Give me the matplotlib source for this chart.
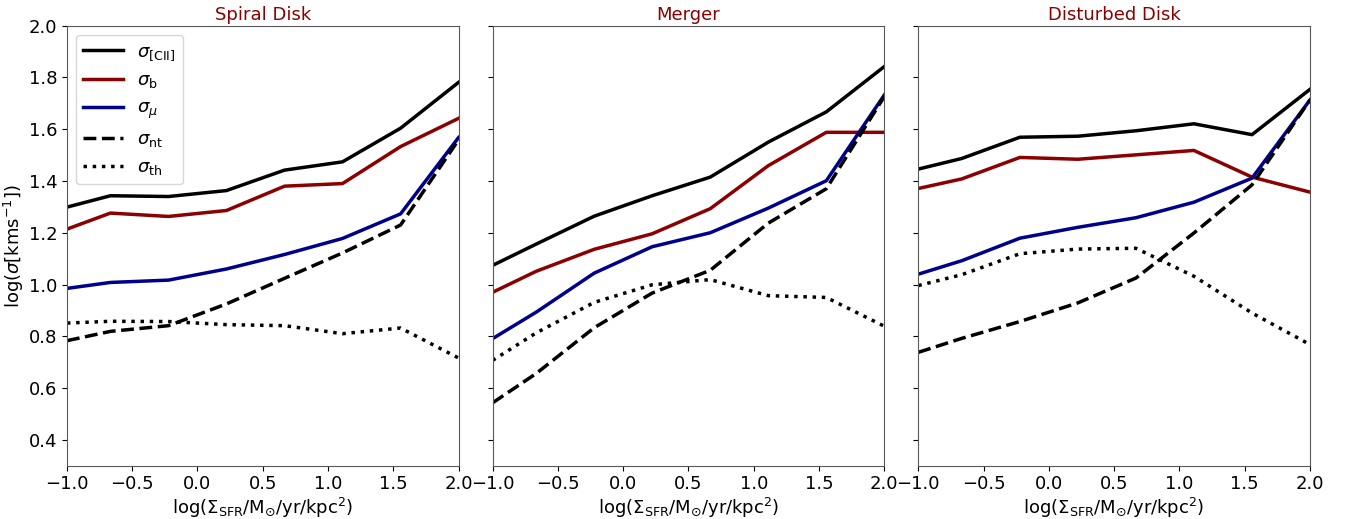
import numpy as np
import matplotlib
matplotlib.use("Agg")
import matplotlib.pyplot as plt

# ------------------ DATA ------------------ #
log_sfr = [-1.0, -0.667, -0.222, 0.222, 0.667, 1.111, 1.556, 2.0]

panels = ["Spiral Disk", "Merger", "Disturbed Disk"]

# Spiral Disk
spiral_cii = [1.299, 1.343, 1.340, 1.363, 1.442, 1.474, 1.604, 1.781]
spiral_b = [1.214, 1.276, 1.263, 1.286, 1.380, 1.390, 1.533, 1.642]
spiral_mu = [0.985, 1.008, 1.017, 1.060, 1.116, 1.178, 1.273, 1.568]
spiral_nt = [0.783, 0.819, 0.841, 0.925, 1.024, 1.122, 1.230, 1.559]
spiral_th = [0.851, 0.858, 0.857, 0.845, 0.841, 0.810, 0.832, 0.716]

# Merger
merger_cii = [1.074, 1.156, 1.264, 1.343, 1.415, 1.550, 1.667, 1.842]
merger_b = [0.970, 1.051, 1.136, 1.196, 1.293, 1.459, 1.588, 1.588]
merger_mu = [0.791, 0.893, 1.044, 1.146, 1.200, 1.295, 1.401, 1.732]
merger_nt = [0.543, 0.656, 0.833, 0.967, 1.055, 1.237, 1.370, 1.726]
merger_th = [0.707, 0.813, 0.931, 0.999, 1.019, 0.957, 0.950, 0.839]

# Disturbed Disk
disturbed_cii = [1.446, 1.487, 1.569, 1.573, 1.594, 1.621, 1.579, 1.754]
disturbed_b = [1.371, 1.408, 1.491, 1.484, 1.501, 1.518, 1.415, 1.357]
disturbed_mu = [1.040, 1.092, 1.179, 1.221, 1.258, 1.318, 1.411, 1.713]
disturbed_nt = [0.738, 0.792, 0.857, 0.929, 1.025, 1.199, 1.385, 1.713]
disturbed_th = [0.996, 1.038, 1.119, 1.137, 1.140, 1.032, 0.890, 0.768]

series_labels = [r"$\sigma_{\rm [CII]}$", r"$\sigma_{\rm b}$", r"$\sigma_{\mu}$",
                 r"$\sigma_{\rm nt}$", r"$\sigma_{\rm th}$"]

all_data = [
    [spiral_cii, spiral_b, spiral_mu, spiral_nt, spiral_th],
    [merger_cii, merger_b, merger_mu, merger_nt, merger_th],
    [disturbed_cii, disturbed_b, disturbed_mu, disturbed_nt, disturbed_th],
]

colors = ["black", "darkred", "darkblue", "black", "black"]
styles = ["-", "-", "-", "--", ":"]

# ------------------- PLOTTING ------------------------ #
plt.rcParams["font.size"] = 13

fig, axes = plt.subplots(1, 3, figsize=(13.47, 5.19), dpi=100, sharey=True)
fig.subplots_adjust(left=0.0497, right=0.9725, top=0.9505, bottom=0.1027, wspace=0.087)

for ax, title, data in zip(axes, panels, all_data):
    for vals, c, ls, lab in zip(data, colors, styles, series_labels):
        ax.plot(log_sfr, vals, color=c, linestyle=ls, linewidth=2.5, label=lab)
    ax.set_title(title, color="darkred", fontsize=13, pad=4)
    ax.set_xlim(-1.0, 2.0)
    ax.set_ylim(0.3, 2.0)
    ax.set_xticks([-1.0, -0.5, 0.0, 0.5, 1.0, 1.5, 2.0])
    ax.set_xlabel(r"log($\Sigma_{\rm SFR}$/M$_{\odot}$/yr/kpc$^2$)", labelpad=2)
    for sp in ax.spines.values():
        sp.set_color("0.35")

axes[0].set_yticks([0.4, 0.6, 0.8, 1.0, 1.2, 1.4, 1.6, 1.8, 2.0])
axes[0].set_ylabel(r"log($\sigma$[kms$^{-1}$])", labelpad=2)
axes[0].legend(loc="upper left", fontsize=13, handlelength=2.2)

fig.savefig("out.png", dpi=100)
